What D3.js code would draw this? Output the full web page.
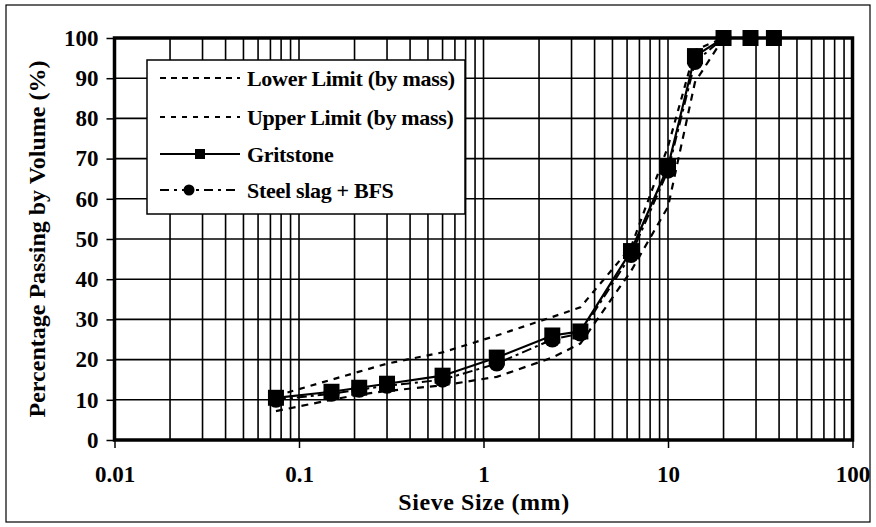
<!DOCTYPE html>
<html lang="en">
<head>
    <meta charset="UTF-8">
    <title>Sieve Grading</title>
    <style>
        body { margin: 0; background: #fff; }
        svg text { font-family: "Liberation Serif", "Times New Roman", serif; font-weight: bold; fill: #000; }
    </style>
</head>
<body>
    <div id="chart"></div>
    <script src="https://d3js.org/d3.v7.min.js"></script>
    <script>
        // sieve sizes (mm)
        const sieves = [0.075, 0.15, 0.212, 0.3, 0.6, 1.18, 2.36, 3.35, 6.3, 10, 14, 20, 28, 37.5];
        const gritstone = [10.5, 12, 13, 14, 16, 20.5, 26, 27, 47, 68, 95.5, 100, 100, 100];
        const steelSlag = [10, 11.5, 12.5, 13.5, 15, 19, 25, 26.5, 46, 67, 94, 100, 100, 100];
        const limitSieves = [0.075, 0.15, 0.212, 0.3, 0.6, 1.18, 2.36, 3.35, 6.3, 10, 14, 20];
        const upperLimit = [11, 15, 17, 19, 21.8, 26, 30.6, 33, 48, 73, 97, 100];
        const lowerLimit = [7.2, 10, 11.3, 12.2, 13.6, 15.7, 20.5, 24, 42, 58, 89, 100];
        const xTicks = [0.01, 0.1, 1, 10, 100];
        const yTicks = [0, 10, 20, 30, 40, 50, 60, 70, 80, 90, 100];
        const legendNames = ["Lower Limit (by mass)", "Upper Limit (by mass)", "Gritstone", "Steel slag + BFS"];

        const width = 876, height = 527;
        const margin = {left: 114.5, right: 23.5, top: 38, bottom: 87};

        const svg = d3.select("#chart").append("svg")
            .attr("width", width)
            .attr("height", height);

        // outer frame
        svg.append("rect")
            .attr("x", 6).attr("y", 5)
            .attr("width", 864).attr("height", 517)
            .attr("fill", "none").attr("stroke", "#000").attr("stroke-width", 1.2);

        const x = d3.scaleLog()
            .domain([0.01, 100])
            .range([margin.left, width - margin.right]);
        const y = d3.scaleLinear()
            .domain([0, 100])
            .range([height - margin.bottom, margin.top]);

        // grid
        const minor = [];
        [0.01, 0.1, 1, 10].forEach(d => { for (let k = 2; k <= 9; k++) minor.push(d * k); });
        svg.append("g")
            .attr("stroke", "#000").attr("stroke-width", 1.6)
            .selectAll("line")
            .data(minor.concat(xTicks))
            .join("line")
            .attr("x1", d => x(d)).attr("x2", d => x(d))
            .attr("y1", y(0)).attr("y2", y(100));
        svg.append("g")
            .attr("stroke", "#000").attr("stroke-width", 1.6)
            .selectAll("line")
            .data(yTicks)
            .join("line")
            .attr("x1", x(0.01)).attr("x2", x(100))
            .attr("y1", d => y(d)).attr("y2", d => y(d));

        // axes
        const xAxis = svg.append("g")
            .attr("transform", `translate(0,${y(0)})`)
            .call(d3.axisBottom(x).tickValues(xTicks).tickFormat(d3.format("~g")).tickSize(8).tickPadding(18));
        const yAxis = svg.append("g")
            .attr("transform", `translate(${x(0.01)},0)`)
            .call(d3.axisLeft(y).tickValues(yTicks).tickSize(8).tickPadding(8));
        [xAxis, yAxis].forEach(a => {
            a.select(".domain").remove();
            a.selectAll(".tick line").attr("stroke", "#000").attr("stroke-width", 1.5);
            a.selectAll("text").style("font-size", "23px").style("font-family", "Liberation Serif").style("font-weight", "bold");
        });
        xAxis.selectAll(".tick line").attr("y1", -2);

        // plot frame
        svg.append("rect")
            .attr("x", x(0.01)).attr("y", y(100))
            .attr("width", x(100) - x(0.01)).attr("height", y(0) - y(100))
            .attr("fill", "none").attr("stroke", "#000").attr("stroke-width", 3.5);

        // limits
        const limitLine = d3.line().x(d => x(d[0])).y(d => y(d[1]));
        svg.append("path")
            .datum(d3.zip(limitSieves, lowerLimit))
            .attr("d", limitLine)
            .attr("fill", "none").attr("stroke", "#000").attr("stroke-width", 2.2)
            .attr("stroke-dasharray", "7,6");
        svg.append("path")
            .datum(d3.zip(limitSieves, upperLimit))
            .attr("d", limitLine)
            .attr("fill", "none").attr("stroke", "#000").attr("stroke-width", 2.2)
            .attr("stroke-dasharray", "6,6");

        // steel slag + BFS
        svg.append("path")
            .datum(d3.zip(sieves, steelSlag))
            .attr("d", limitLine)
            .attr("fill", "none").attr("stroke", "#000").attr("stroke-width", 2)
            .attr("stroke-dasharray", "10,4,3,4");
        svg.append("g")
            .selectAll("circle")
            .data(d3.zip(sieves, steelSlag))
            .join("circle")
            .attr("cx", d => x(d[0])).attr("cy", d => y(d[1]))
            .attr("r", 8).attr("fill", "#000");

        // gritstone
        svg.append("path")
            .datum(d3.zip(sieves, gritstone))
            .attr("d", limitLine)
            .attr("fill", "none").attr("stroke", "#000").attr("stroke-width", 2.2);
        svg.append("g")
            .selectAll("rect")
            .data(d3.zip(sieves, gritstone))
            .join("rect")
            .attr("x", d => x(d[0]) - 8).attr("y", d => y(d[1]) - 8)
            .attr("width", 16).attr("height", 16).attr("fill", "#000");

        // legend
        const lg = svg.append("g").attr("transform", "translate(147,60)");
        lg.append("rect")
            .attr("width", 318).attr("height", 154)
            .attr("fill", "#fff").attr("stroke", "#000").attr("stroke-width", 1.5);
        const rows = lg.selectAll("g.row")
            .data(legendNames)
            .join("g")
            .attr("class", "row")
            .attr("transform", (d, i) => `translate(0,${[18, 57, 94, 130][i]})`);
        rows.append("line")
            .attr("x1", 13).attr("x2", 93)
            .attr("stroke", "#000").attr("stroke-width", 2)
            .attr("stroke-dasharray", (d, i) => ["6,5", "5,6", null, "9,5,3,5"][i]);
        rows.filter((d, i) => i === 2).append("rect")
            .attr("x", 48).attr("y", -5).attr("width", 10).attr("height", 10).attr("fill", "#000");
        rows.filter((d, i) => i === 3).append("circle")
            .attr("cx", 42).attr("r", 5.5).attr("fill", "#000");
        rows.append("text")
            .attr("x", 100).attr("dy", "0.35em")
            .style("font-size", "22px")
            .style("letter-spacing", "-0.3px")
            .text(d => d);

        // axis titles
        svg.append("text")
            .attr("x", 484).attr("y", 510)
            .attr("text-anchor", "middle")
            .style("font-size", "24px")
            .style("letter-spacing", "0.6px")
            .text("Sieve Size (mm)");
        svg.append("text")
            .attr("transform", "translate(45,239) rotate(-90)")
            .attr("text-anchor", "middle")
            .style("font-size", "24px")
            .text("Percentage Passing by Volume (%)");
    </script>
</body>
</html>
